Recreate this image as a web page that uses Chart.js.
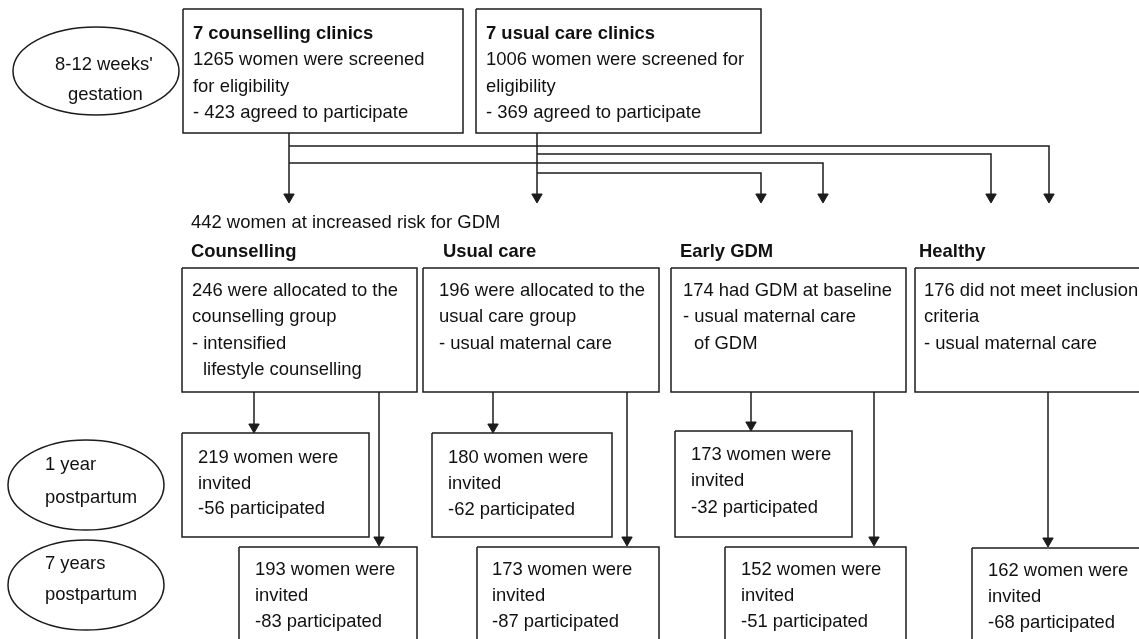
<!DOCTYPE html>
<html>
<head>
<meta charset="utf-8">
<script src="https://cdn.jsdelivr.net/npm/chart.js@4"></script>
<style>
  html, body { margin: 0; padding: 0; background: #fff; }
  #wrap { width: 1139px; height: 639px; }
</style>
</head>
<body>
<div id="wrap"><canvas id="flow" width="1139" height="639"></canvas></div>
<script>
// --- values ---
const clinicNames = ['7 counselling clinics', '7 usual care clinics'];
const screened = [1265, 1006];
const agreed = [423, 369];
const atRisk = 442;
const groups = ['Counselling', 'Usual care', 'Early GDM', 'Healthy'];
const baseline = [246, 196, 174, 176];
const invited1y = [219, 180, 173];
const took1y = [56, 62, 32];
const invited7y = [193, 173, 152, 162];
const took7y = [83, 87, 51, 68];
const stages = [["8-12 weeks'", 'gestation'], ['1 year', 'postpartum'], ['7 years', 'postpartum']];

// --- layout (in axis units, 1 unit = 1 px) ---
const clinicBox = [[183, 463], [476, 761]];
const clinicY = [9, 133];
const clinicTextX = [193, 486];
const clinicLineY = [32, 58, 85, 111];
const clinicDrop = [289, 537];
const branches = [[289, 146, 1049], [537, 154, 991], [289, 163, 823], [537, 173, 761]];
const topTip = 203;
const headX = [191, 443, 680, 919];
const groupBox = [[182, 417], [423, 659], [671, 906], [915, 1150]];
const groupY = [268, 392];
const groupTextX = [192, 439, 683, 924];
const groupLineY = [289, 315, 342, 368];
const box1y = [[182, 369], [432, 612], [675, 852]];
const box1yY = [[433, 537], [433, 537], [431, 537]];
const text1yX = [198, 448, 691];
const line1yY = [[456, 482, 507], [456, 482, 508], [453, 479, 506]];
const drop1y = [254, 493, 751];
const tip1y = [433, 433, 431];
const box7y = [[239, 417], [477, 659], [725, 906], [972, 1150]];
const box7yTop = [547, 547, 547, 548];
const text7yX = [255, 492, 741, 988];
const line7yY = [568, 594, 620];
const drop7y = [379, 627, 874, 1048];
const tip7y = [546, 546, 546, 547];
const ovals = [[96, 71, 83, 44], [86, 485, 78, 45], [86, 585, 78, 45]];
const ovalText = [[[55, 63], [68, 93]], [[45, 463], [45, 496]], [[45, 562], [45, 593]]];

const ink = '#1c1c1c';
const fontFamily = "'Liberation Sans', Arial, Helvetica, sans-serif";
const fontSize = 19;
const squeeze = 0.97;
const textShift = 2; // 'middle' baseline sits a little high for this font

// text content built from the values
const groupLines = [
  [baseline[0] + ' were allocated to the', 'counselling group', '- intensified', '  lifestyle counselling'],
  [baseline[1] + ' were allocated to the', 'usual care group', '- usual maternal care'],
  [baseline[2] + ' had GDM at baseline', '- usual maternal care', '  of GDM'],
  [baseline[3] + ' did not meet inclusion', 'criteria', '- usual maternal care']
];
const clinicLines = [
  [clinicNames[0], screened[0] + ' women were screened', 'for eligibility', '- ' + agreed[0] + ' agreed to participate'],
  [clinicNames[1], screened[1] + ' women were screened for', 'eligibility', '- ' + agreed[1] + ' agreed to participate']
];

const labels = [];
clinicLines.forEach((lines, i) => lines.forEach((t, j) =>
  labels.push({ x: clinicTextX[i], y: clinicLineY[j], t, bold: j === 0 })));
labels.push({ x: 191, y: 221, t: atRisk + ' women at increased risk for GDM' });
groups.forEach((g, i) => labels.push({ x: headX[i], y: 250, t: g, bold: true }));
groupLines.forEach((lines, i) => lines.forEach((t, j) => {
  const indent = t.startsWith('  ');
  labels.push({ x: groupTextX[i] + (indent ? 11 : 0), y: groupLineY[j], t: t.trim() });
}));
invited1y.forEach((n, i) => {
  const lines = [n + ' women were', 'invited', '-' + took1y[i] + ' participated'];
  lines.forEach((t, j) => labels.push({ x: text1yX[i], y: line1yY[i][j], t }));
});
invited7y.forEach((n, i) => {
  const lines = [n + ' women were', 'invited', '-' + took7y[i] + ' participated'];
  lines.forEach((t, j) => labels.push({ x: text7yX[i], y: line7yY[j] + (i === 3 ? 1 : 0), t }));
});
stages.forEach((s, i) => s.forEach((t, j) =>
  labels.push({ x: ovalText[i][j][0], y: ovalText[i][j][1], t })));

// --- datasets ---
function rect(x0, x1, y0, y1) {
  return [{ x: x0, y: y0 }, { x: x1, y: y0 }, { x: x1, y: y1 }, { x: x0, y: y1 }, { x: x0, y: y0 }];
}
function lineSet(data, width) {
  return {
    type: 'line', data, borderColor: ink, borderWidth: width || 1.5,
    pointRadius: 0, tension: 0, fill: false, borderJoinStyle: 'miter'
  };
}

const datasets = [];
clinicBox.forEach(b => datasets.push(lineSet(rect(b[0], b[1], clinicY[0], clinicY[1]))));
groupBox.forEach(b => datasets.push(lineSet(rect(b[0], b[1], groupY[0], groupY[1]))));
box1y.forEach((b, i) => datasets.push(lineSet(rect(b[0], b[1], box1yY[i][0], box1yY[i][1]))));
box7y.forEach((b, i) => datasets.push(lineSet(rect(b[0], b[1], box7yTop[i], 700))));

const tips = [];
clinicDrop.forEach(x => {
  datasets.push(lineSet([{ x, y: clinicY[1] }, { x, y: topTip - 5 }]));
  tips.push({ x, y: topTip - 6 });
});
branches.forEach(([x0, y, x1]) => {
  datasets.push(lineSet([{ x: x0, y }, { x: x1, y }, { x: x1, y: topTip - 5 }]));
  tips.push({ x: x1, y: topTip - 6 });
});
drop1y.forEach((x, i) => {
  datasets.push(lineSet([{ x, y: groupY[1] }, { x, y: tip1y[i] - 5 }]));
  tips.push({ x, y: tip1y[i] - 6 });
});
drop7y.forEach((x, i) => {
  datasets.push(lineSet([{ x, y: groupY[1] }, { x, y: tip7y[i] - 5 }]));
  tips.push({ x, y: tip7y[i] - 6 });
});
datasets.push({
  type: 'scatter', data: tips, pointStyle: 'triangle', rotation: 180,
  pointRadius: 6, backgroundColor: ink, borderColor: ink, borderWidth: 1
});

// ovals and text drawn on top, positioned through the scales
const annotate = {
  id: 'annotate',
  afterDatasetsDraw(chart) {
    const { ctx, scales } = chart;
    const px = v => scales.x.getPixelForValue(v);
    const py = v => scales.y.getPixelForValue(v);
    ctx.save();
    ctx.strokeStyle = ink;
    ctx.lineWidth = 1.5;
    ovals.forEach(([cx, cy, rx, ry]) => {
      ctx.beginPath();
      ctx.ellipse(px(cx), py(cy), Math.abs(px(cx + rx) - px(cx)), Math.abs(py(cy + ry) - py(cy)), 0, 0, Math.PI * 2);
      ctx.stroke();
    });
    ctx.fillStyle = '#111';
    ctx.textBaseline = 'middle';
    ctx.textAlign = 'left';
    labels.forEach(l => {
      ctx.font = (l.bold ? 'bold ' : '') + fontSize + 'px ' + fontFamily;
      ctx.save();
      ctx.translate(px(l.x), py(l.y + textShift));
      ctx.scale(squeeze, 1);
      ctx.fillText(l.t, 0, 0);
      ctx.restore();
    });
    ctx.restore();
  }
};

const config = {
  type: 'scatter',
  data: { datasets },
  options: {
    responsive: false,
    animation: false,
    events: [],
    layout: { padding: 0, autoPadding: false },
    plugins: { legend: { display: false }, tooltip: { enabled: false } },
    scales: {
      x: { type: 'linear', min: 0, max: 1139, display: false },
      y: { type: 'linear', min: 0, max: 639, reverse: true, display: false }
    }
  },
  plugins: [annotate]
};

const flowChart = new Chart(document.getElementById('flow'), config);
</script>
</body>
</html>
